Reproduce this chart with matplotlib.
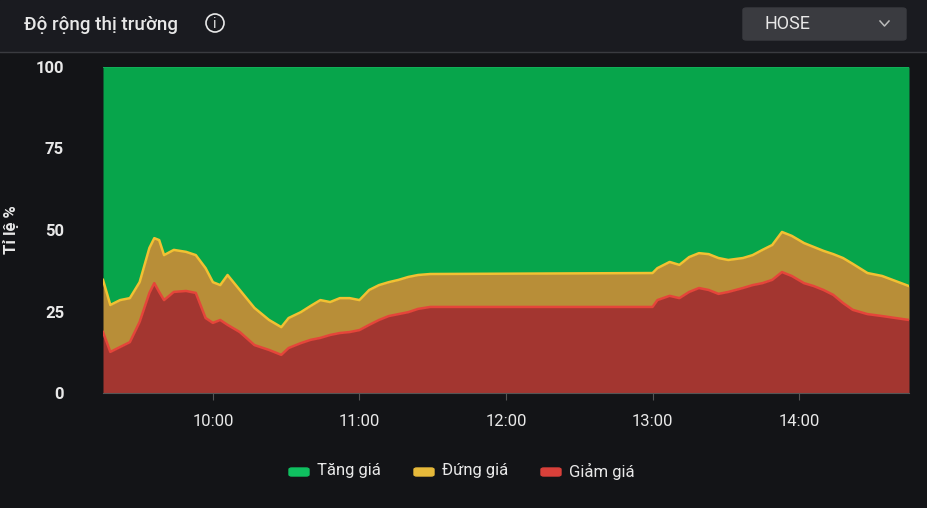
import matplotlib
matplotlib.use("Agg")
import matplotlib.pyplot as plt
from matplotlib.patches import FancyBboxPatch, Ellipse
from matplotlib.lines import Line2D
import numpy as np

times = ["09:15","09:18","09:22","09:26","09:30","09:34","09:36","09:38","09:40","09:44","09:49","09:53","09:57",
         "10:00","10:03","10:06","10:11","10:17","10:23","10:28","10:31","10:36","10:40","10:44","10:48","10:52","10:56",
         "11:00","11:04","11:08","11:12","11:16","11:20","11:24","11:29","13:00","13:02","13:07","13:11","13:15","13:19",
         "13:23","13:27","13:31","13:37","13:41","13:45","13:49","13:53","13:57","14:02","14:06","14:10","14:14","14:18",
         "14:22","14:28","14:34","14:45"]
giam = [18.7,12.6,14.1,15.6,21.8,30.7,33.7,31.0,28.5,31.0,31.3,30.7,23.0,
        21.5,22.4,20.9,18.7,14.7,13.2,11.7,13.8,15.3,16.3,16.9,17.8,18.4,18.7,
        19.3,20.9,22.4,23.6,24.2,24.8,25.8,26.4,26.4,28.5,29.8,29.1,31.0,32.2,
        31.6,30.4,31.0,32.2,33.1,33.7,34.7,37.1,35.9,33.7,32.8,31.6,30.1,27.6,
        25.5,24.2,23.6,22.4]
giam_dung = [34.7,27.0,28.5,29.1,34.0,44.5,47.5,46.9,42.3,43.9,43.3,42.3,38.3,
             34.0,33.1,36.2,31.6,26.1,22.4,20.2,23.0,24.8,26.7,28.5,27.9,29.1,29.1,
             28.5,31.6,33.1,34.0,34.7,35.6,36.2,36.5,36.8,38.3,40.2,39.3,41.7,42.9,
             42.6,41.4,40.8,41.4,42.3,43.9,45.4,49.4,48.2,46.0,44.8,43.6,42.6,41.4,
             39.6,36.8,35.9,32.8]
xticks = ["10:00","11:00","12:00","13:00","14:00"]
yticks = [0,25,50,75,100]

def tm(s):
    h, m = s.split(":")
    return int(h) + int(m)/60

x = np.array([tm(t) for t in times])
r = np.array(giam); y = np.array(giam_dung)

W, H = 927, 508
def fx(px): return px/W
def fy(py): return 1-py/H

BG = "#131417"
fig = plt.figure(figsize=(9.27,5.08), dpi=100, facecolor=BG)
plt.rcParams['font.family'] = ['Roboto', 'DejaVu Sans']

# header
fig.patches.append(plt.Rectangle((0, fy(52)), 1, 52/H, transform=fig.transFigure, color="#1a1b20", zorder=0))
fig.add_artist(Line2D([0,1],[fy(52)]*2, color="#3a3b40", lw=1))
fig.text(fx(24), fy(25), "Độ rộng thị trường", color="#e8e8e8", fontsize=13.5, va="center", fontweight="medium")
# info icon
fig.patches.append(Ellipse((fx(215), fy(23)), 18/W, 18/H, transform=fig.transFigure, fill=False, ec="#e8e8e8", lw=1.2))
fig.text(fx(215), fy(23.5), "i", color="#e8e8e8", fontsize=10, va="center", ha="center")
fig.patches.append(FancyBboxPatch((fx(743), fy(40)), 163/W, 32/H, boxstyle="round,pad=0,rounding_size=0.004",
                                  transform=fig.transFigure, color="#3a3b40"))
fig.text(fx(765), fy(24), "HOSE", color="#e8e8e8", fontsize=13, va="center")
fig.add_artist(Line2D([fx(880), fx(884.5), fx(889)], [fy(21), fy(26), fy(21)], color="#bbbbbb", lw=1.1))

ax = fig.add_axes([fx(103), fy(393), 806/W, 326/H])
ax.set_facecolor(BG)
ax.fill_between(x, y, 100, color="#07a54b", lw=0)
ax.fill_between(x, r, y, color="#b88e38", lw=0)
ax.fill_between(x, 0, r, color="#a33630", lw=0)
ax.plot(x, y, color="#f2c132", lw=1.8)
ax.plot(x, r, color="#e5453a", lw=1.8)
ax.plot([x[0], x[-1]], [100, 100], color="#10c060", lw=1.2)
ax.set_xlim(x[0], x[-1]); ax.set_ylim(0, 100)
ax.set_xticks([tm(t) for t in xticks]); ax.set_xticklabels(xticks)
ax.set_yticks(yticks)
for s in ["top","right","left"]: ax.spines[s].set_visible(False)
ax.spines["bottom"].set_color("#555")
ax.tick_params(axis="x", colors="#555", labelcolor="#e8e8e8", labelsize=12, length=5, pad=10)
ax.tick_params(axis="y", length=0, labelcolor="#e8e8e8", labelsize=12, pad=28)
for t in ax.get_yticklabels(): t.set_fontweight("bold")
ax.set_ylabel("Tỉ lệ %", color="#e8e8e8", fontsize=12, fontweight="bold", labelpad=12)

# legend
items = [("Tăng giá", "#0fc060", 289), ("Đứng giá", "#e6b93a", 414), ("Giảm giá", "#d8403a", 541)]
for lab, col, px in items:
    fig.patches.append(FancyBboxPatch((fx(px), fy(476)), 20/W, 8/H, boxstyle="round,pad=0,rounding_size=0.003",
                                      transform=fig.transFigure, color=col))
    fig.text(fx(px+28), fy(471), lab, color="#e8e8e8", fontsize=12, va="center")

fig.savefig("out.png", dpi=100, facecolor=BG)
